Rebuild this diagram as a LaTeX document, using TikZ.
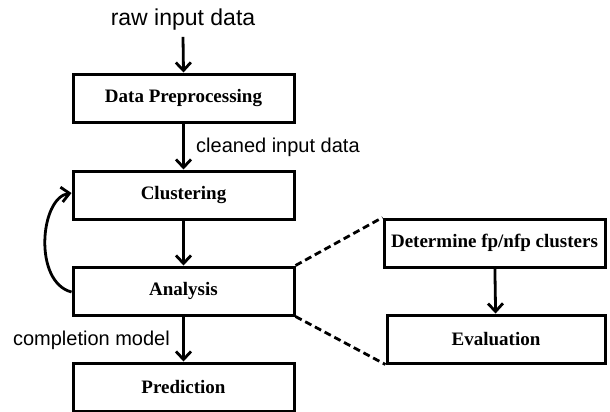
\documentclass[tikz,border=0pt]{standalone}
\usepackage{fontspec}
\setmainfont{Liberation Serif}
\newfontfamily\labfont{Liberation Sans}
\usetikzlibrary{arrows.meta}
\begin{document}
\begin{tikzpicture}[x=1pt,y=1pt,
  box/.style={draw, line width=3pt, minimum height=48pt, inner sep=0pt,
    font=\fontsize{19}{22}\selectfont\bfseries},
  lab/.style={inner sep=0pt, font=\labfont\fontsize{20}{24}\selectfont},
  arr/.style={line width=2.8pt, -{Straight Barb[length=8pt,width=15pt,line width=2.8pt]}},
  dsh/.style={line width=2.8pt, dash pattern=on 7pt off 4pt}]
\useasboundingbox (0,0) rectangle (610,-412);
\node[lab, font=\labfont\fontsize{23}{26}\selectfont] (raw) at (183,-20) {raw input data};
\node[box, minimum width=221pt] (pre) at (183.5,-98) {Data Preprocessing};
\node[box, minimum width=221pt] (clu) at (183.5,-195) {Clustering};
\node[box, minimum width=221pt] (ana) at (183.5,-291) {Analysis};
\node[box, minimum width=221pt] (pred) at (183.5,-387) {Prediction};
\node[box, minimum width=221pt] (det) at (494.5,-243) {Determine fp/nfp clusters};
\node[box, minimum width=218pt] (eva) at (496,-339) {Evaluation};
\node[lab, anchor=west] (cl) at (196,-147) {cleaned input data};
\node[lab, anchor=east] (cm) at (170,-340) {completion model};
\draw[arr] ([yshift=-6pt]raw.south) -- (pre.north);
\draw[arr] (pre) -- (clu);
\draw[arr] (clu) -- (ana);
\draw[arr] (ana) -- (pred);
\draw[arr] (det) -- (eva);
\draw[arr] ([yshift=-1pt]ana.west) .. controls (33,-282) and (40,-198) .. ([yshift=2pt]clu.west);
\draw[dsh] (ana.north east) -- (det.north west);
\draw[dsh] (ana.south east) -- (eva.south west);
\end{tikzpicture}
\end{document}
